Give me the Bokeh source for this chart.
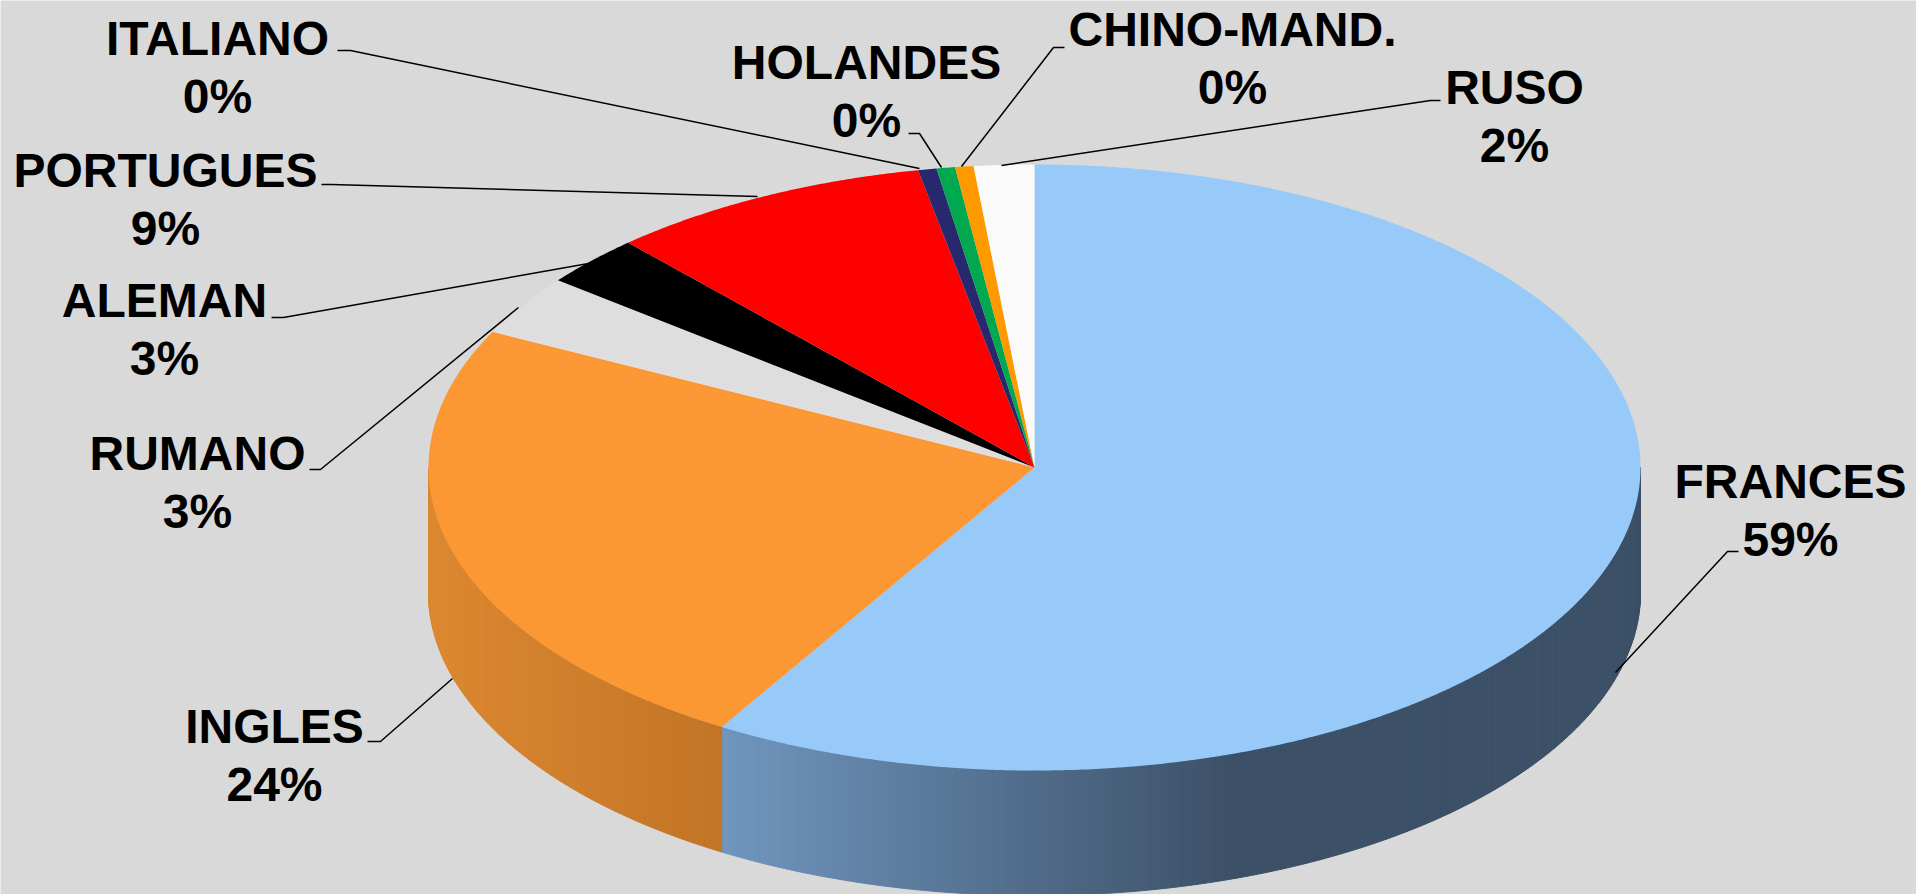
import math
from bokeh.plotting import figure
from bokeh.models import Range1d, ColumnDataSource
from bokeh.core.properties import value
from bokeh.embed import file_html
from bokeh.resources import INLINE

# ---------------- data ----------------
languages = ["FRANCES", "INGLES", "RUMANO", "ALEMAN", "PORTUGUES",
             "ITALIANO", "HOLANDES", "CHINO-MAND.", "RUSO"]
shares = [58.5, 23.7, 3.2, 2.7, 8.6, 0.49, 0.49, 0.49, 1.6]

# ---------------- styles ----------------
top_colors = ["#97C9F9", "#FB9834", "#DEDEDE", "#000000", "#FF0000",
              "#28286E", "#00A84F", "#FF9900", "#FAFAFA"]
# side gradients: (x_start, x_end, color_start, color_end)
side_grad = {
    0: (721, 1234, (112, 150, 190), (60, 80, 103)),
    1: (428, 721, (220, 136, 48), (194, 117, 38)),
}
BG = "#D9D9D9"

# ---------------- layout ----------------
CX, CY, RX, RY, DEPTH = 1034.0, 467.0, 606.0, 303.0, 125.0
label_x = [1790, 274, 197, 164, 165, 217, 866, 1232, 1514]
label_base = [481, 726, 453, 300, 170, 38, 62, 29, 87]
LINE_GAP = 58
leaders = [
    [(1738, 551), (1727, 551), (1615, 672)],
    [(367, 741), (380, 741), (452, 678)],
    [(309, 469), (320, 469), (518, 307)],
    [(271, 317), (283, 317), (588, 263)],
    [(321, 184), (331, 184), (757, 196)],
    [(337, 50), (350, 50), (919, 168)],
    [(908, 133), (919, 133), (941, 167)],
    [(1064, 47), (1053, 47), (961, 166)],
    [(1440, 100), (1430, 100), (1001, 165)],
]

W, H = 1916, 894
p = figure(width=W, height=H, output_backend="svg", toolbar_location=None,
           x_range=Range1d(0, W), y_range=Range1d(H, 0),
           x_axis_location=None, y_axis_location=None,
           min_border=0, background_fill_color=BG, border_fill_color=BG,
           outline_line_color=None)
p.grid.visible = False


def pt(theta_deg, dy=0.0):
    t = math.radians(theta_deg)
    return CX + RX * math.sin(t), CY - RY * math.cos(t) + dy


total = sum(shares)
bounds = [0.0]
for v in shares:
    bounds.append(bounds[-1] + v / total * 360.0)


def lerp_col(c0, c1, f):
    f = max(0.0, min(1.0, f))
    return "#%02x%02x%02x" % tuple(int(round(a + (b - a) * f)) for a, b in zip(c0, c1))


# ---- side faces (front half only) ----
sx, sy, sc = [], [], []
for i in range(len(shares)):
    a0, a1 = max(bounds[i], 90.0), min(bounds[i + 1], 270.0)
    if a1 <= a0:
        continue
    n = max(1, int((a1 - a0) / 0.5))
    g = side_grad.get(i)
    for k in range(n):
        t0 = a0 + (a1 - a0) * k / n
        t1 = a0 + (a1 - a0) * (k + 1) / n
        p0, p1 = pt(t0), pt(t1)
        xs = [p0[0], p1[0], p1[0], p0[0]]
        ys = [p0[1], p1[1], p1[1] + DEPTH, p0[1] + DEPTH]
        xm = (p0[0] + p1[0]) / 2
        if g:
            col = lerp_col(g[2], g[3], (xm - g[0]) / (g[1] - g[0]))
        else:
            col = top_colors[i]
        sx.append(xs); sy.append(ys); sc.append(col)
p.patches(xs="xs", ys="ys", fill_color="c", line_color="c", line_width=1,
          source=ColumnDataSource(dict(xs=sx, ys=sy, c=sc)))

# ---- top faces ----
tx, ty = [], []
for i in range(len(shares)):
    a0, a1 = bounds[i], bounds[i + 1]
    n = max(2, int((a1 - a0) / 0.25))
    xs, ys = [CX], [CY]
    for k in range(n + 1):
        x, y = pt(a0 + (a1 - a0) * k / n)
        xs.append(x); ys.append(y)
    tx.append(xs); ty.append(ys)
p.patches(xs="xs", ys="ys", fill_color="c", line_color=None,
          source=ColumnDataSource(dict(xs=tx, ys=ty, c=top_colors)))

# ---- leader lines ----
p.multi_line(xs=[[q[0] for q in l] for l in leaders],
             ys=[[q[1] for q in l] for l in leaders],
             line_color="black", line_width=1.5)

# ---- labels ----
pct = ["%d%%" % round(v / total * 100) for v in shares]
p.text(x=label_x, y=label_base, text=languages,
       text_font=value("Liberation Sans"), text_font_style="bold",
       text_font_size="48px", text_align="center", text_baseline="alphabetic",
       text_color="black")
p.text(x=label_x, y=[b + LINE_GAP for b in label_base], text=pct,
       text_font=value("Liberation Sans"), text_font_style="bold",
       text_font_size="48px", text_align="center", text_baseline="alphabetic",
       text_color="black")

html = file_html(p, INLINE)
html = html.replace("<body>", '<body style="background-color:#D9D9D9;">', 1)
open("out.html", "w").write(html)
